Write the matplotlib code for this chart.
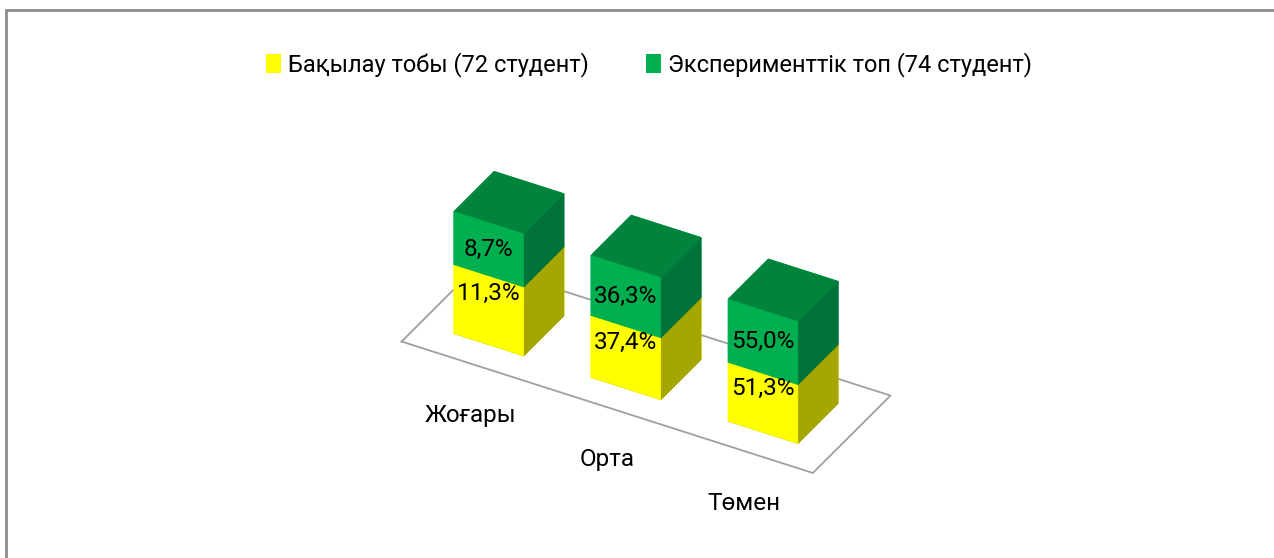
import numpy as np
import matplotlib
matplotlib.use("Agg")
import matplotlib.pyplot as plt
from matplotlib.patches import Patch, Rectangle

plt.rcParams["font.family"] = ["Roboto", "DejaVu Sans"]

categories = ["Жоғары", "Орта", "Төмен"]
series_names = ["Бақылау тобы (72 студент)", "Эксперименттік топ (74 студент)"]
control = np.array([11.3, 37.4, 51.3])
experiment = np.array([8.7, 36.3, 55.0])

# 100% stacked: each column normalised to its own total
total = control + experiment
ctrl_share = control / total * 100
exp_share = experiment / total * 100

yellow = ["#FFFF00", "#A6A600", "#A6A600"]   # front, top, side
green = ["#00B050", "#00843C", "#00733A"]

fig = plt.figure(figsize=(12.74, 5.58), dpi=100)
fig.patches.append(Rectangle((6 / 1274, -0.1), 1.2, 1.1 - 10 / 558,
                             transform=fig.transFigure, fill=False,
                             edgecolor="#8c8c8c", linewidth=2))

ax = fig.add_axes([1.5 / 1274, -36 / 558, 1, 1], projection="3d",
                  proj_type="ortho", computed_zorder=False)
ax.view_init(elev=34.4, azim=-60.5)
ax.set_xlim(-0.5, 2.5)
ax.set_ylim(0, 1)
ax.set_zlim(0, 100)
ax.set_box_aspect((3, 1, 0.94), zoom=0.904)
ax.set_xticks([])
ax.set_yticks([])
ax.set_zticks([])
ax.set_axis_off()

# floor outline
x0, x1 = -0.5, len(categories) - 0.5
ax.plot([x0, x1, x1, x0, x0], [0, 0, 1, 1, 0], [0, 0, 0, 0, 0],
        color="#a0a0a0", linewidth=1.3, zorder=1)

width, depth, y0 = 0.51, 0.52, 0.24
idx = np.arange(len(categories))
xs = np.concatenate([idx, idx]) - width / 2
zs = np.concatenate([np.zeros(3), ctrl_share])
dz = np.concatenate([ctrl_share, exp_share])


def face_colors(c):
    # bar3d face order: -z, +z, -y, +y, -x, +x
    return [c[1], c[1], c[0], c[0], c[0], c[2]]


colors = []
for k in range(len(xs)):
    colors += face_colors(yellow if k < 3 else green)

ax.bar3d(xs, np.full(len(xs), y0), zs, width, depth, dz,
         color=colors, edgecolor=colors, linewidth=0.3,
         shade=False, zorder=2)

fs = 17.5
for i in idx:
    ax.text(i, y0, ctrl_share[i] * 0.75, f"{control[i]:.1f}%".replace(".", ","),
            ha="center", va="center", fontsize=fs, zorder=5)
    ax.text(i, y0, ctrl_share[i] + exp_share[i] / 2,
            f"{experiment[i]:.1f}%".replace(".", ","),
            ha="center", va="center", fontsize=fs, zorder=5)
    ax.text(i, 0, -43, categories[i], ha="center", va="center",
            fontsize=fs, zorder=5)

handles = [Patch(facecolor=yellow[0], edgecolor="none"),
           Patch(facecolor=green[0], edgecolor="none")]
fig.legend(handles, series_names, loc="center",
           bbox_to_anchor=(649 / 1274, 1 - 65 / 558), ncol=2, frameon=False,
           fontsize=17, handlelength=0.64, handleheight=0.85,
           handletextpad=0.3, columnspacing=2.4)

fig.savefig("out.png", dpi=100)
